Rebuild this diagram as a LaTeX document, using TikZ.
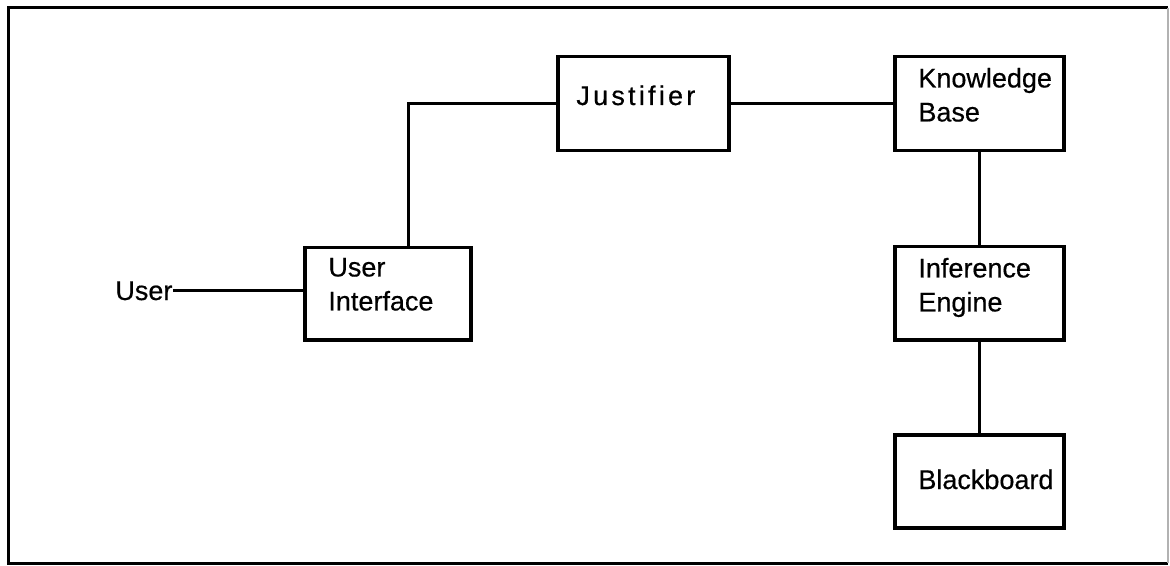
\documentclass[tikz,border=0pt]{standalone}
\usepackage{fontspec}
\setmainfont{Liberation Sans}[FakeBold=0.5]
\newfontfamily\spacedfont[LetterSpace=12,FakeBold=0.5]{Liberation Sans}
\begin{document}
\begin{tikzpicture}[x=0.5pt,y=-0.5pt,
  blk/.style={draw, line width=1.75pt, inner sep=0pt, anchor=north west},
  lbl/.style={inner sep=0pt, align=left, font=\fontsize{13.5}{17}\selectfont},
  link/.style={line width=1.5pt}]
\useasboundingbox (0,0) rectangle (1170,566);
% frame
\draw[line width=1.5pt] (1168,8) -- (8,8) -- (8,563) -- (1168,563);
\draw[line width=1pt, black!30] (1168,8) -- (1168,563);
% boxes
\node[blk, minimum width=83pt, minimum height=46pt] (ui) at (303,246) {};
\node[blk, minimum width=85.5pt, minimum height=47pt] (just) at (556,55) {};
\node[blk, minimum width=84.5pt, minimum height=47pt] (kb) at (893,55) {};
\node[blk, minimum width=84.5pt, minimum height=46.5pt] (ie) at (893,245) {};
\node[blk, minimum width=84.5pt, minimum height=46.5pt] (bb) at (893,433) {};
% labels
\node[lbl, anchor=north west] (uil) at (328,257.5) {User\\Interface};
\node[lbl, anchor=base west] (justl) at (576,105) {\spacedfont Justifier};
\node[lbl, anchor=north west] (kbl) at (918,67.5) {Knowledge\\Base};
\node[lbl, anchor=north west] (iel) at (918,257.5) {Inference\\Engine};
\node[lbl, anchor=base west] (bbl) at (918,489) {Blackboard};
\node[lbl, anchor=base west] (user) at (115,300) {User};
% connectors
\draw[link] (user.east) -- (user.east -| ui.west);
\draw[link] ([xshift=52.5pt]ui.north west) |- (just.west);
\draw[link] (just.east) -- (kb.west);
\draw[link] (kb.south) -- (ie.north);
\draw[link] (ie.south) -- (bb.north);
\end{tikzpicture}
\end{document}
